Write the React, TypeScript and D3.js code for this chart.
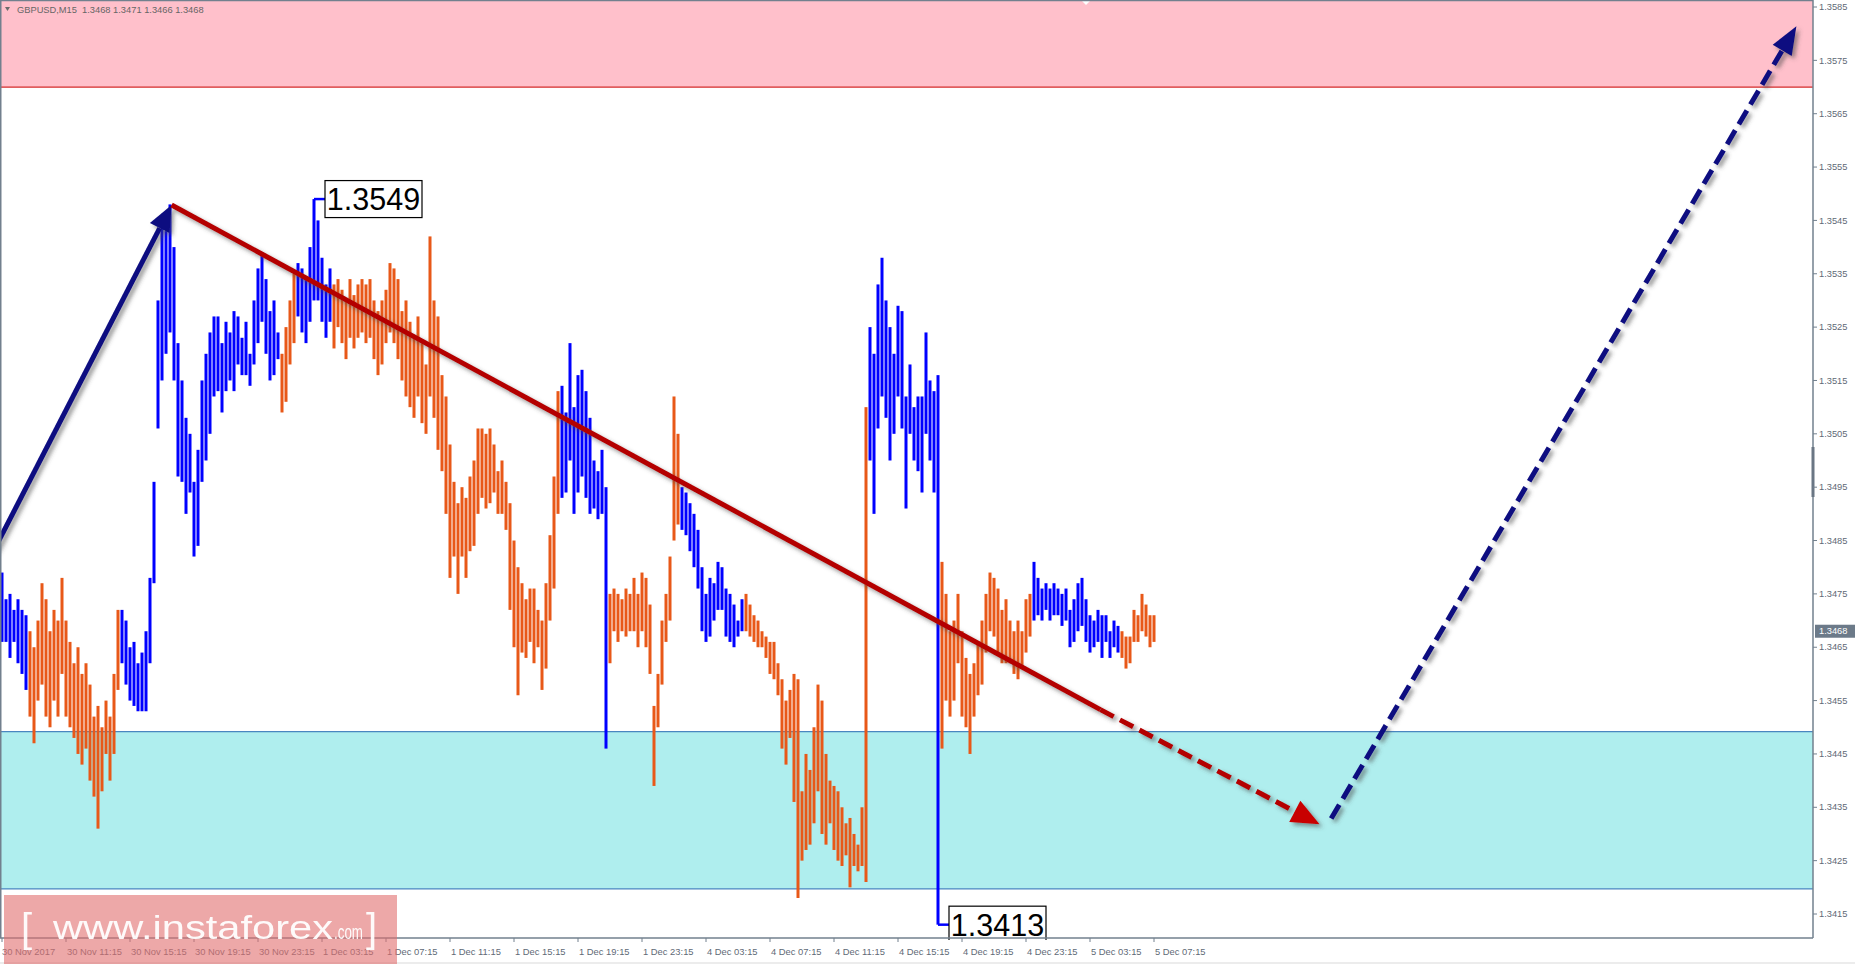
import React, { useEffect } from 'react';
import * as d3 from 'd3';

const W = 1855;
const H = 964;
const PLOT_R = 1813;
const PLOT_B = 938;

const highs = [
  1.3479,1.3474,1.3475,1.3472,1.3474,1.3472,1.3471,
  1.3468,1.3465,1.3470,1.3477,1.3474,1.3468,1.3472,1.3470,1.3478,1.3470,1.3466,1.3462,1.3465,1.3460,1.3462,1.3458,1.3452,1.3454,1.3450,1.3455,1.3452,1.3460,1.3472,
  1.3472,1.3470,1.3465,1.3466,1.3462,1.3464,1.3468,
  1.3478,1.3496,1.3530,1.3545,1.3543,1.3548,1.3540,1.3522,1.3515,1.3508,1.3505,1.3496,1.3502,
  1.3515,1.3520,1.3524,1.3527,1.3527,1.3522,1.3526,1.3524,1.3528,1.3527,
  1.3523,1.3526,1.3520,1.3530,1.3536,1.3539,1.3534,1.3528,1.3530,1.3524,
  1.3520,1.3525,1.3530,1.3535,1.3537,1.3536,1.3534,1.3540,1.3549,1.3545,
  1.3538,1.3533,1.3536,1.3533,1.3534,1.3532,1.3530,1.3534,1.3531,1.3533,
  1.3534,1.3533,1.3534,1.3530,1.3528,1.3530,1.3532,1.3537,1.3536,1.3534,
  1.3528,1.3530,1.3526,1.3523,1.3527,1.3522,1.3518,1.3542,1.3530,1.3527,
  1.3516,1.3512,1.3503,1.3496,1.3492,1.3495,1.3493,1.3497,1.3500,1.3506,
  1.3506,1.3505,1.3506,1.3503,1.3498,1.3500,1.3496,1.3492,1.3485,1.3480,
  1.3477,1.3474,1.3476,1.3476,1.3472,1.3470,1.3477,1.3486,1.3497,1.3513,
  1.3514,1.3509,1.3522,1.3510,1.3516,1.3517,1.3513,1.3508,1.3500,1.3498,
  1.3502,1.3495,1.3475,1.3476,1.3475,1.3474,1.3476,1.3475,1.3478,1.3475,
  1.3479,1.3478,1.3473,1.3454,1.3460,1.3470,1.3475,1.3482,1.3512,1.3505,
  1.3495,1.3494,1.3492,1.3490,1.3487,1.3480,1.3475,1.3478,1.3477,1.3481,
  1.3480,1.3476,1.3475,1.3473,1.3470,1.3474,1.3475,1.3473,1.3471,1.3470,
  1.3468,1.3467,1.3466,1.3466,1.3462,1.3459,1.3455,1.3457,1.3460,1.3459,
  1.3438,1.3445,1.3442,1.3450,1.3458,1.3455,1.3445,1.3440,1.3439,1.3438,
  1.3435,1.3432,1.3433,1.3430,1.3428,1.3435,1.3510,1.3525,1.3520,1.3533,
  1.3538,1.3530,1.3525,1.3520,1.3529,1.3528,1.3512,1.3518,1.3510,1.3512,
  1.3512,1.3524,1.3515,1.3513,1.3516,1.3481,1.3475,1.3468,1.3470,1.3475,
  1.3468,1.3463,1.3460,1.3462,1.3466,1.3470,1.3475,1.3479,1.3478,1.3476,
  1.3472,1.3474,1.3470,1.3468,1.3470,1.3468,1.3474,1.3475,1.3481,1.3478,
  1.3476,1.3477,1.3476,1.3477,1.3476,1.3475,1.3476,1.3472,1.3474,1.3477,
  1.3478,1.3474,1.3471,1.3470,1.3472,1.3471,1.3471,1.3468,1.3470,1.3469,
  1.3468,1.3467,1.3467,1.3472,1.3471,1.3475,1.3473,1.3471,1.3471,
];

const lows = [
  1.3466,1.3466,1.3463,1.3466,1.3462,1.3460,1.3457,
  1.3452,1.3447,1.3455,1.3458,1.3452,1.3450,1.3455,1.3452,1.3460,1.3452,1.3450,1.3448,1.3445,1.3443,1.3446,1.3440,1.3437,1.3431,1.3438,1.3445,1.3440,1.3445,1.3457,
  1.3462,1.3458,1.3455,1.3454,1.3453,1.3453,1.3453,
  1.3462,1.3477,1.3506,1.3515,1.3520,1.3524,1.3515,1.3497,1.3496,1.3490,1.3494,1.3482,1.3484,
  1.3496,1.3500,1.3505,1.3512,1.3513,1.3509,1.3513,1.3515,1.3513,1.3518,
  1.3516,1.3516,1.3514,1.3518,1.3522,1.3526,1.3520,1.3515,1.3516,1.3519,
  1.3509,1.3511,1.3518,1.3522,1.3527,1.3524,1.3522,1.3526,1.3530,1.3530,
  1.3526,1.3523,1.3526,1.3521,1.3525,1.3522,1.3519,1.3523,1.3521,1.3523,
  1.3524,1.3522,1.3523,1.3519,1.3516,1.3518,1.3522,1.3524,1.3522,1.3519,
  1.3515,1.3512,1.3510,1.3508,1.3512,1.3507,1.3505,1.3512,1.3508,1.3502,
  1.3498,1.3490,1.3478,1.3482,1.3475,1.3482,1.3478,1.3483,1.3484,1.3490,
  1.3493,1.3491,1.3492,1.3494,1.3490,1.3490,1.3487,1.3472,1.3465,1.3456,
  1.3464,1.3463,1.3466,1.3462,1.3465,1.3457,1.3461,1.3470,1.3476,1.3490,
  1.3493,1.3494,1.3500,1.3490,1.3494,1.3497,1.3493,1.3490,1.3491,1.3489,
  1.3490,1.3446,1.3462,1.3468,1.3466,1.3468,1.3467,1.3468,1.3468,1.3465,
  1.3468,1.3465,1.3460,1.3439,1.3450,1.3458,1.3466,1.3470,1.3485,1.3488,
  1.3487,1.3486,1.3483,1.3480,1.3476,1.3468,1.3466,1.3467,1.3470,1.3472,
  1.3472,1.3467,1.3466,1.3465,1.3467,1.3468,1.3468,1.3467,1.3466,1.3465,
  1.3465,1.3463,1.3460,1.3459,1.3456,1.3446,1.3443,1.3448,1.3436,1.3418,
  1.3425,1.3427,1.3428,1.3432,1.3438,1.3430,1.3428,1.3432,1.3427,1.3425,
  1.3424,1.3426,1.3420,1.3424,1.3423,1.3424,1.3421,1.3500,1.3490,1.3506,
  1.3512,1.3508,1.3500,1.3505,1.3512,1.3506,1.3491,1.3505,1.3500,1.3498,
  1.3494,1.3505,1.3500,1.3494,1.3413,1.3446,1.3455,1.3452,1.3455,1.3462,
  1.3452,1.3450,1.3445,1.3452,1.3456,1.3458,1.3464,1.3468,1.3467,1.3464,
  1.3462,1.3462,1.3462,1.3460,1.3459,1.3461,1.3464,1.3467,1.3470,1.3471,
  1.3470,1.3472,1.3470,1.3471,1.3471,1.3469,1.3470,1.3465,1.3466,1.3468,
  1.3469,1.3466,1.3464,1.3465,1.3466,1.3463,1.3466,1.3463,1.3465,1.3464,
  1.3463,1.3461,1.3462,1.3466,1.3466,1.3468,1.3467,1.3465,1.3466,
];

// wave colouring: bar index where each coloured run starts
const waveStarts = [0, 7, 30, 70, 74, 83, 140, 152, 170, 186, 217, 235, 258, 280];
const waveKinds = ['up', 'down', 'up', 'down', 'up', 'down', 'up', 'down', 'up', 'down', 'up', 'down', 'up', 'down'];

const yTickValues = [1.3415,1.3425,1.3435,1.3445,1.3455,1.3465,1.3475,1.3485,1.3495,1.3505,1.3515,1.3525,1.3535,1.3545,1.3555,1.3565,1.3575,1.3585];
const xTickBars = [0,16,32,48,64,80,96,112,128,144,160,176,192,208,224,240,256,272,288];
const xTickLabels = ['30 Nov 2017','30 Nov 11:15','30 Nov 15:15','30 Nov 19:15','30 Nov 23:15','1 Dec 03:15','1 Dec 07:15','1 Dec 11:15','1 Dec 15:15','1 Dec 19:15','1 Dec 23:15','4 Dec 03:15','4 Dec 07:15','4 Dec 11:15','4 Dec 15:15','4 Dec 19:15','4 Dec 23:15','5 Dec 03:15','5 Dec 07:15'];

const resistanceZone = [1.3570, 1.3600];
const supportZone = [1.34197, 1.34492];
const lastPrice = 1.3468;
const headerSymbol = 'GBPUSD,M15';
const headerOHLC = ['1.3468', '1.3471', '1.3466', '1.3468'];

const upWave = [{ i: -2, p: 1.34832 }, { i: 42.4, p: 1.35479 }];
const downWaveSolid = [{ i: 42.4, p: 1.35479 }, { i: 274.6, p: 1.34533 }];
const downWaveDashed = [{ i: 274.6, p: 1.34533 }, { i: 329.4, p: 1.34318 }];
const upForecast = [{ i: 332.3, p: 1.34329 }, { i: 448.6, p: 1.35814 }];

const extremeLabels = [
  { i: 78, p: 1.3549, text: '1.3549' },
  { i: 234, p: 1.3413, text: '1.3413' },
];

const BLUE = '#0000ff';
const ORANGE = '#e85818';
const NAVY = '#0a0a80';
const DARKRED = '#b40000';
const AXIS = '#72808e';
const LABEL = '#5f6a76';

function colorAt(i: number) {
  let k = 0;
  for (let j = 0; j < waveStarts.length; j++) if (i >= waveStarts[j]) k = j;
  return waveKinds[k] === 'up' ? BLUE : ORANGE;
}

function arrowHead(x0: number, y0: number, x1: number, y1: number, len: number, half: number) {
  const dx = x1 - x0, dy = y1 - y0;
  const d = Math.hypot(dx, dy);
  const ux = dx / d, uy = dy / d;
  const bx = x1 - ux * len, by = y1 - uy * len;
  const nx = -uy, ny = ux;
  return {
    base: [bx, by],
    pts: `${x1},${y1} ${bx + nx * half},${by + ny * half} ${bx - nx * half},${by - ny * half}`,
  };
}

export default function App() {
  useEffect(() => {
    document.body.style.margin = '0';
    document.body.style.overflow = 'hidden';
  }, []);

  const x = d3.scaleLinear().domain([0, 288]).range([2, 1154]);
  const y = d3.scaleLinear().domain([1.3415, 1.3585]).range([914, 7]);
  const font = '"Liberation Sans", Arial, sans-serif';

  const up0 = [x(upWave[0].i), y(upWave[0].p)];
  const up1 = [x(upWave[1].i), y(upWave[1].p)];
  const upHead = arrowHead(up0[0], up0[1], up1[0], up1[1], 26, 11);

  const rs0 = [x(downWaveSolid[0].i), y(downWaveSolid[0].p)];
  const rs1 = [x(downWaveSolid[1].i), y(downWaveSolid[1].p)];
  const rd0 = [x(downWaveDashed[0].i), y(downWaveDashed[0].p)];
  const rd1 = [x(downWaveDashed[1].i), y(downWaveDashed[1].p)];
  const redHead = arrowHead(rd0[0], rd0[1], rd1[0], rd1[1], 28, 12);

  const f0 = [x(upForecast[0].i), y(upForecast[0].p)];
  const f1 = [x(upForecast[1].i), y(upForecast[1].p)];
  const fHead = arrowHead(f0[0], f0[1], f1[0], f1[1], 28, 11);

  return (
    <svg width={W} height={H} style={{ display: 'block', background: '#fff' }} fontFamily={font}>
      <defs>
        <clipPath id="plot">
          <rect x={0} y={0} width={PLOT_R} height={PLOT_B + 2} />
        </clipPath>
        <filter id="shadow" x="-20%" y="-20%" width="140%" height="140%">
          <feDropShadow dx={3} dy={3} stdDeviation={2} floodColor="#444" floodOpacity={0.55} />
        </filter>
      </defs>

      <g clipPath="url(#plot)">
        {/* zones */}
        <rect x={0} y={0} width={PLOT_R} height={y(resistanceZone[0])} fill="#ffc0cb" />
        <line x1={0} x2={PLOT_R} y1={y(resistanceZone[0])} y2={y(resistanceZone[0])} stroke="#d42a2a" strokeWidth={1.2} />
        <rect x={0} y={y(supportZone[1])} width={PLOT_R} height={y(supportZone[0]) - y(supportZone[1])} fill="#afeeee" />
        <line x1={0} x2={PLOT_R} y1={y(supportZone[1])} y2={y(supportZone[1])} stroke="#4a86c0" strokeWidth={1.2} />
        <line x1={0} x2={PLOT_R} y1={y(supportZone[0])} y2={y(supportZone[0])} stroke="#4a86c0" strokeWidth={1.2} />

        {/* bars */}
        {highs.map((h, i) => (
          <rect key={i} x={x(i) - 1.5} y={y(h)} width={3} height={Math.max(1.5, y(lows[i]) - y(h))} fill={colorAt(i)} />
        ))}

        {/* extreme labels */}
        {extremeLabels.map((l, k) => {
          const bx = x(l.i);
          const by = y(l.p);
          const c = colorAt(l.i);
          return (
            <g key={k}>
              <line x1={bx} x2={bx + 11} y1={by} y2={by} stroke={c} strokeWidth={2.5} />
              <rect x={bx + 11} y={by - 18.5} width={97} height={37} fill="#fff" stroke="#000" strokeWidth={1.2} />
              <text x={bx + 59.5} y={by + 11} fontSize={30.5} textAnchor="middle" fill="#000">{l.text}</text>
            </g>
          );
        })}

        {/* waves */}
        <g filter="url(#shadow)">
          <line x1={up0[0]} y1={up0[1]} x2={upHead.base[0]} y2={upHead.base[1]} stroke={NAVY} strokeWidth={5} />
          <polygon points={upHead.pts} fill={NAVY} />
          <line x1={rs0[0]} y1={rs0[1]} x2={rs1[0]} y2={rs1[1]} stroke={DARKRED} strokeWidth={5} />
          <line x1={rd0[0]} y1={rd0[1]} x2={redHead.base[0]} y2={redHead.base[1]} stroke={DARKRED} strokeWidth={5} strokeDasharray="15 7" />
          <polygon points={redHead.pts} fill="#c80000" />
          <line x1={f0[0]} y1={f0[1]} x2={fHead.base[0]} y2={fHead.base[1]} stroke={NAVY} strokeWidth={5} strokeDasharray="16 7" />
          <polygon points={fHead.pts} fill={NAVY} />
        </g>

        {/* small marker at the top */}
        <polygon points="1081,0 1091,0 1086,5" fill="#fff" />
      </g>

      {/* frame */}
      <line x1={0} x2={PLOT_R} y1={0.5} y2={0.5} stroke={AXIS} strokeWidth={1.5} />
      <line x1={0.75} x2={0.75} y1={0} y2={PLOT_B} stroke={AXIS} strokeWidth={1.5} />
      <line x1={PLOT_R} x2={PLOT_R} y1={0} y2={PLOT_B} stroke={AXIS} strokeWidth={1.5} />
      <line x1={0} x2={PLOT_R} y1={PLOT_B} y2={PLOT_B} stroke={AXIS} strokeWidth={1.5} />
      <rect x={PLOT_R - 1.5} y={447} width={3} height={50} fill="#6a7684" />

      {/* header */}
      <polygon points="5,7 10,7 7.5,11" fill="#6b6b6b" />
      <text x={17} y={12.5} fontSize={9.3} fill="#666" style={{ whiteSpace: 'pre' }}>
        {`${headerSymbol}  ${headerOHLC.join(' ')}`}
      </text>

      {/* right axis */}
      {yTickValues.map((v) => (
        <g key={v}>
          <line x1={PLOT_R} x2={PLOT_R + 4} y1={y(v)} y2={y(v)} stroke={AXIS} />
          <text x={1819} y={y(v) + 3.2} fontSize={9.3} fill={LABEL}>{v.toFixed(4)}</text>
        </g>
      ))}
      <rect x={1815} y={y(lastPrice) - 6.5} width={40} height={13} fill="#6c7a89" />
      <text x={1819} y={y(lastPrice) + 3.2} fontSize={9.3} fill="#fff">{lastPrice.toFixed(4)}</text>

      {/* bottom axis */}
      {xTickBars.map((b, k) => (
        <g key={b}>
          <line x1={x(b)} x2={x(b)} y1={PLOT_B} y2={PLOT_B + 4} stroke={AXIS} />
          <text x={k === 0 ? 2 : x(b) + 1} y={954.5} fontSize={9.4} fill={LABEL}>{xTickLabels[k]}</text>
        </g>
      ))}
      <rect x={0} y={962} width={W} height={2} fill="#ececec" />

      {/* watermark */}
      <rect x={4} y={895} width={393} height={69} fill="rgb(225,110,110)" opacity={0.6} />
      <g fill="#fff" opacity={0.95}>
        <text x={21} y={942} fontSize={40} fontWeight={300}>[</text>
        <text x={53} y={939} fontSize={33} textLength={280} lengthAdjust="spacingAndGlyphs">www.instaforex</text>
        <text x={334} y={939} fontSize={21} textLength={29} lengthAdjust="spacingAndGlyphs">.com</text>
        <text x={366} y={942} fontSize={40} fontWeight={300}>]</text>
      </g>
    </svg>
  );
}
